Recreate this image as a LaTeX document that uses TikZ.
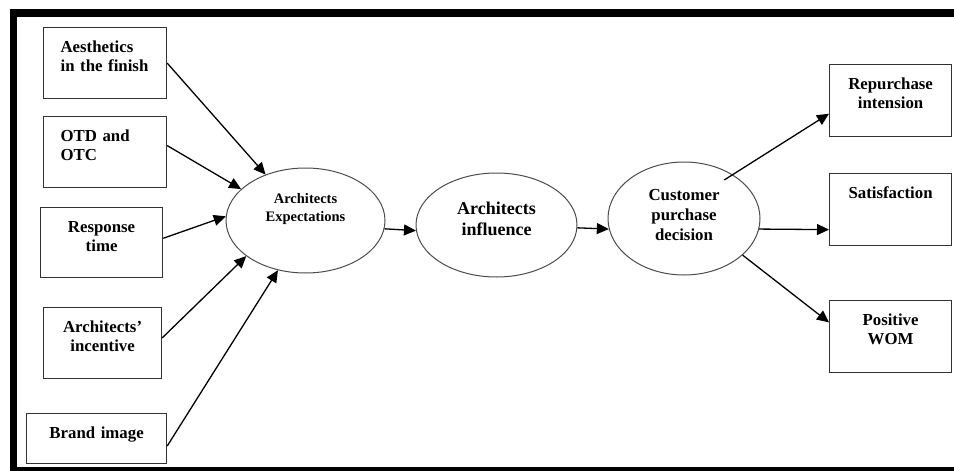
\documentclass[tikz,border=0pt]{standalone}
\usepackage{fontspec}
\setmainfont{Liberation Serif}
\usetikzlibrary{shapes.geometric,arrows.meta}

\begin{document}
\begin{tikzpicture}[x=1pt, y=-1pt,
    box/.style={draw=black!80, line width=1.2pt, anchor=north west, inner xsep=0pt, inner ysep=0pt,
      text height=24.5pt, align=center, font=\fontsize{16.8}{19.5}\selectfont\bfseries},
    oval/.style={ellipse, draw=black!70, line width=1pt, inner sep=0pt, align=center, text width=100pt},
    link/.style={-{Triangle[length=12pt,width=11pt]}, line width=1.3pt}]
        \useasboundingbox (0,0) rectangle (954,471);
        \clip (0,0) rectangle (954,471);
        % Draw outer frame
        \draw[line width=7.5pt] (13.5,12.75) rectangle (965,470.5);

        % Input boxes on the left
        \node[box, text width=89pt, inner xsep=17pt, align=left, text depth=46.5pt] (aes) at (43,27) {Aesthetics\\in the finish};
        \node[box, text width=89pt, inner xsep=17pt, align=left, text depth=46.5pt] (otd) at (43,116) {OTD and\\OTC};
        \node[box, text width=122pt, text depth=45.5pt] (resp) at (40,207) {Response\\time};
        \node[box, text width=118pt, text depth=46.5pt] (inc) at (43,307) {Architects'\\incentive};
        \node[box, text width=140pt, text depth=25.5pt] (brand) at (26,413) {Brand image};

        % Ellipses in the middle
        \node[oval, minimum width=159pt, minimum height=105pt, text height=10pt, text depth=44pt,
          font=\fontsize{14.5}{18}\selectfont\bfseries] (exp) at (305.5,220.5) {Architects\\Expectations};
        \node[oval, minimum width=161pt, minimum height=104pt, text height=12pt, text depth=34pt,
          font=\fontsize{18}{21}\selectfont\bfseries] (inf) at (496.5,225) {Architects\\influence};
        \node[oval, minimum width=152pt, minimum height=113pt, text height=12pt, text depth=48pt,
          font=\fontsize{16.8}{20}\selectfont\bfseries] (cus) at (684,218.5) {Customer\\purchase\\decision};

        % Output boxes on the right
        \node[box, text width=122pt, text depth=47.5pt] (rep) at (829,64) {Repurchase\\intension};
        \node[box, text width=122pt, text depth=47.5pt] (sat) at (829,173) {Satisfaction};
        \node[box, text width=122pt, text depth=47.5pt] (wom) at (829,300) {Positive\\WOM};

        % Draw arrows into the expectations
        \draw[link] (aes.east) -- (exp.131);
        \draw[link] (otd.6) -- (exp.154);
        \draw[link] (resp.4) -- (exp.177);
        \draw[link] (inc.5) -- (exp.211);
        \draw[link] (brand.-6) -- (exp.241);

        % Draw the chain and the outcomes
        \draw[link] (exp.-6) -- (inf.184);
        \draw[link] (inf.-2) -- (cus.188);
        \draw[link, shorten <=-10pt] (cus.42) -- (rep.192);
        \draw[link] (cus.-8) -- (sat.198);
        \draw[link] (cus.-32) -- (wom.167);
    \end{tikzpicture}
\end{document}
